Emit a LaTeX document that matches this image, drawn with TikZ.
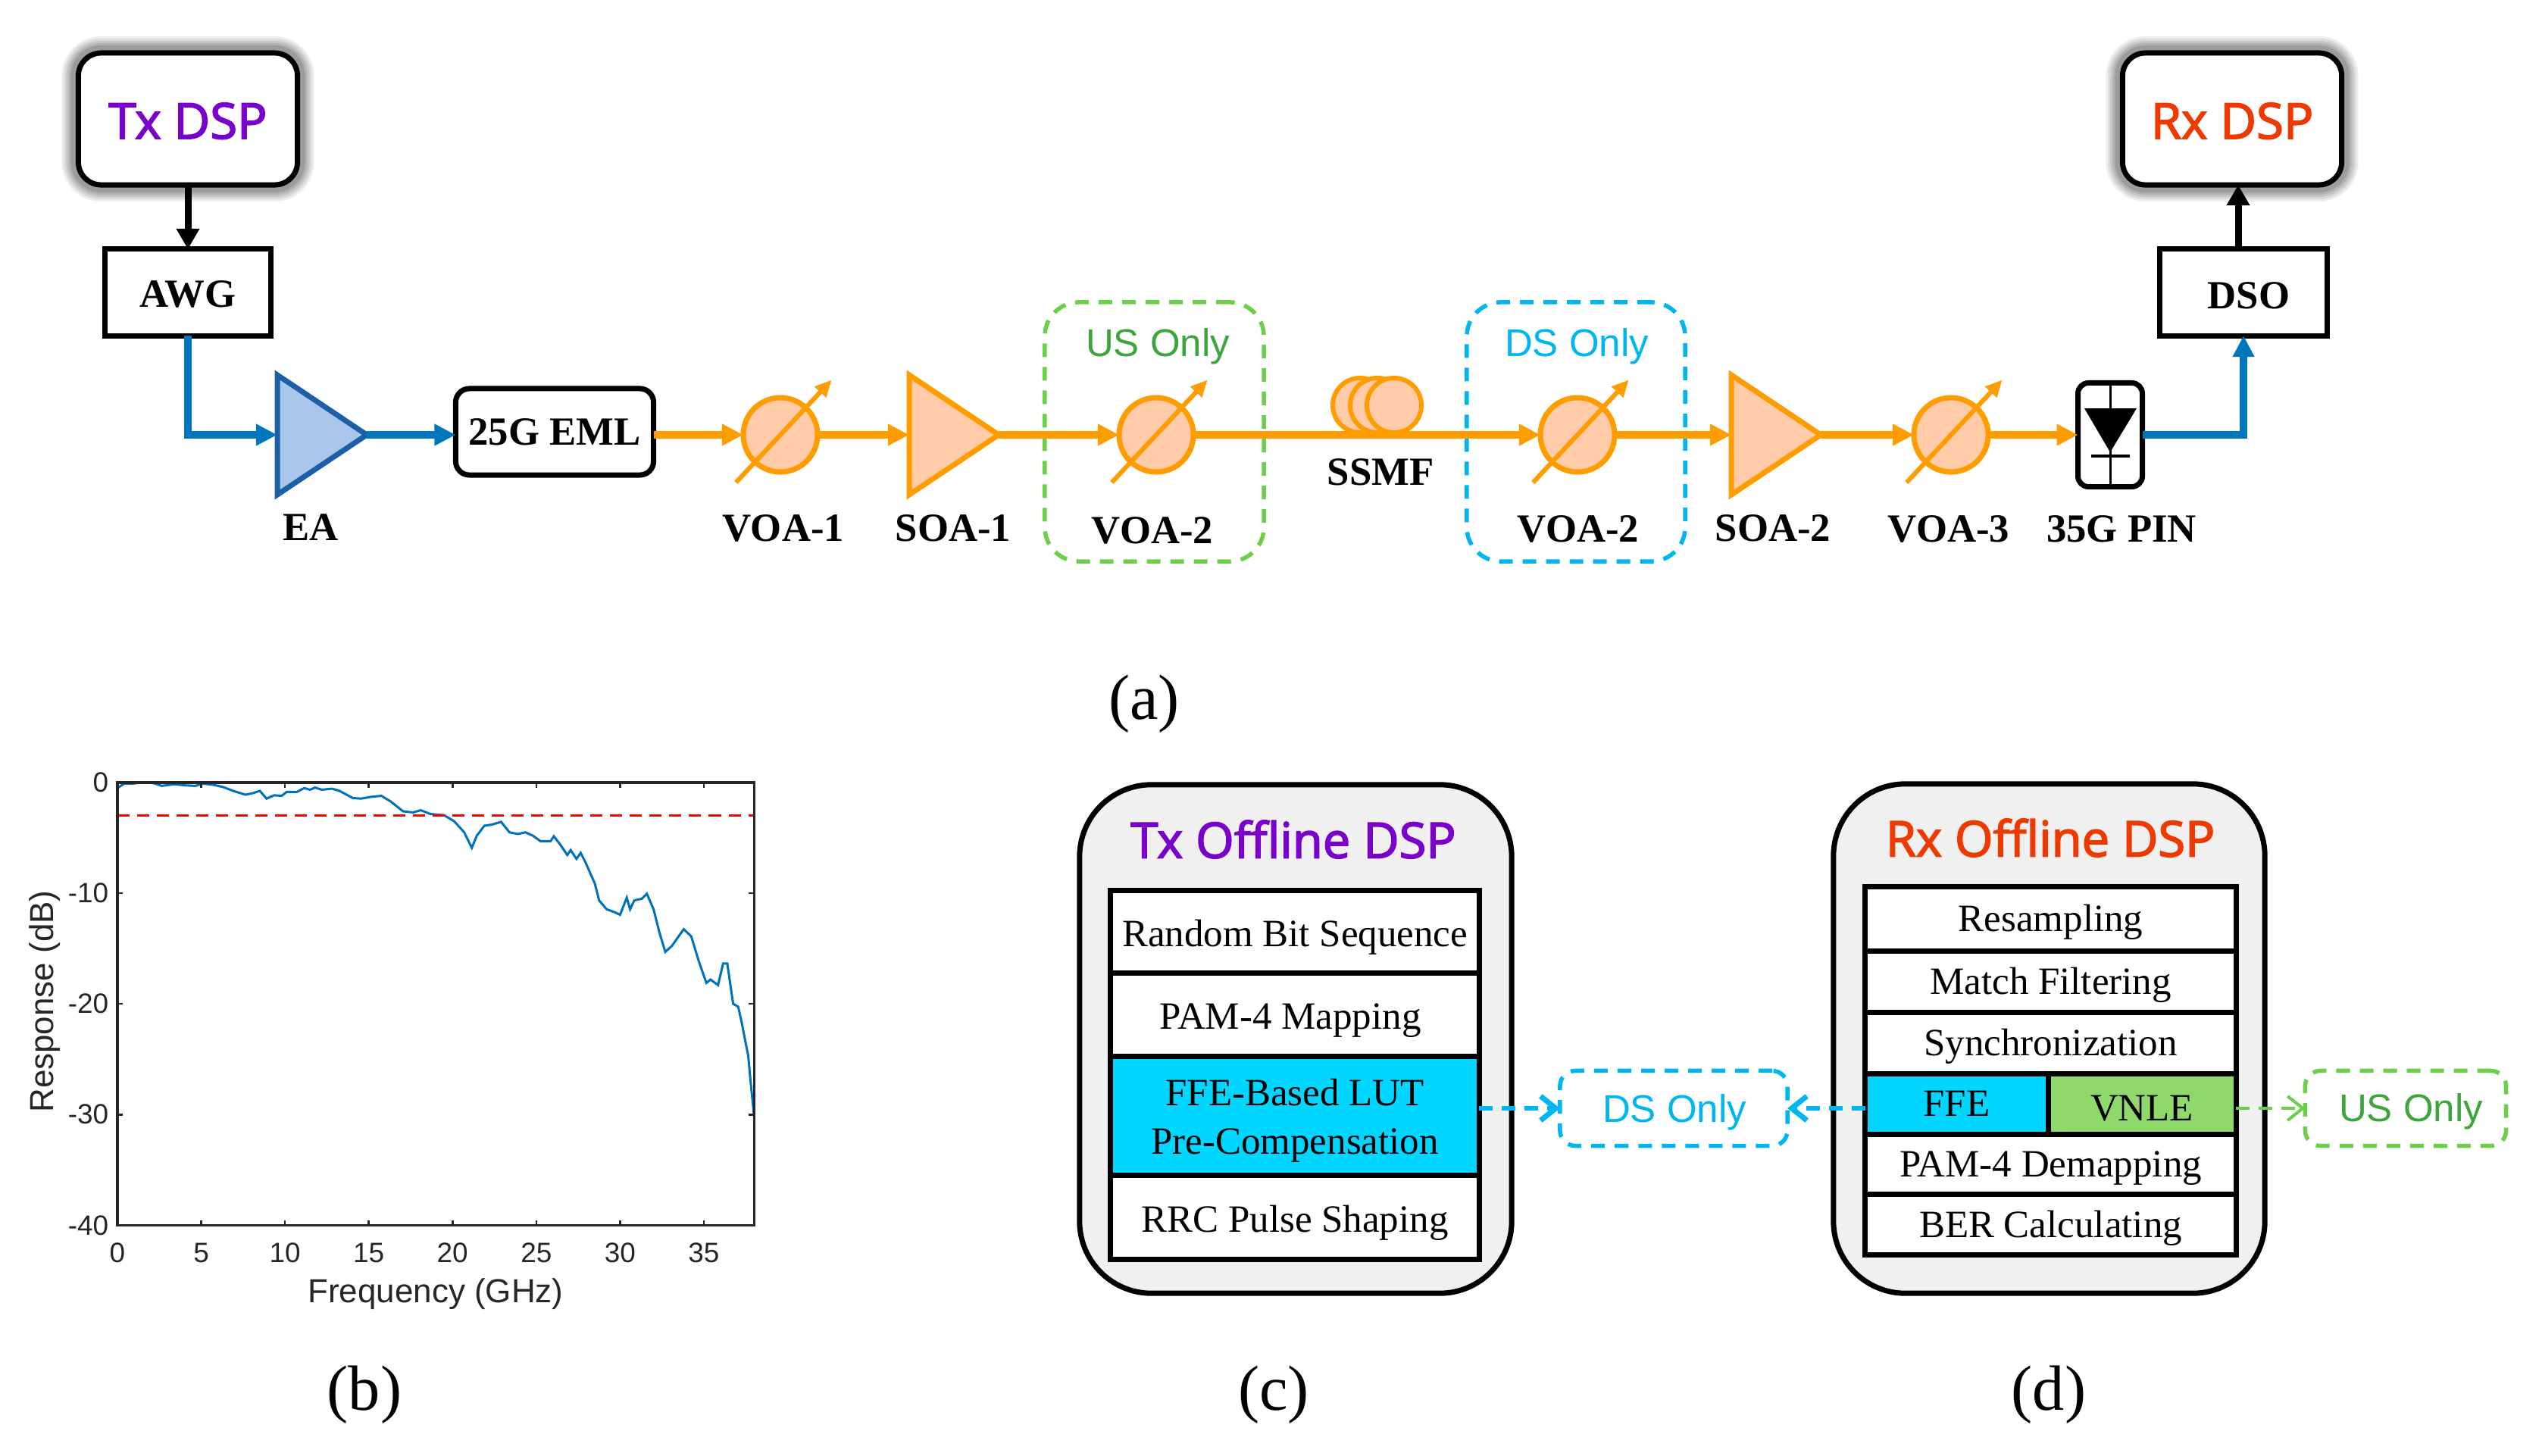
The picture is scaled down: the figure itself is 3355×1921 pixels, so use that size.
\documentclass[tikz,border=0pt]{standalone}
\usepackage{fontspec}
\setmainfont{Liberation Serif}
\setsansfont{Liberation Sans}
\newfontfamily\titlefont[FakeBold=2.5]{Open Sans}
\usepackage{xcolor}
\usetikzlibrary{positioning, arrows.meta, shapes.geometric}

\definecolor{optorange}{HTML}{FF9C00}
\definecolor{optfill}{HTML}{FFCBA8}
\definecolor{elecblue}{HTML}{0077BD}
\definecolor{eafill}{HTML}{AAC6EA}
\definecolor{eadraw}{HTML}{1B5FA6}
\definecolor{dsblue}{HTML}{00B6F0}
\definecolor{usgreen}{HTML}{6CCF4A}
\definecolor{ustext}{HTML}{3CA53C}
\definecolor{txpurple}{HTML}{7A00CC}
\definecolor{rxred}{HTML}{EE3A00}
\definecolor{ffecyan}{HTML}{00D6FF}
\definecolor{vnlegreen}{HTML}{8FD86B}
\definecolor{panelgray}{HTML}{F0F0F0}
\definecolor{curveblue}{HTML}{0072BD}

\begin{document}
\begin{tikzpicture}[x=.01cm, y=-.01cm, node distance=0cm]
        % Define styles
        \tikzstyle{dspbox} = [rectangle, draw=black, fill=white, line width=.07cm, rounded corners=.3cm, minimum width=2.89cm, minimum height=1.74cm, outer sep=0,
            preaction={draw=black, draw opacity=.07, line width=.44cm}, preaction={draw=black, draw opacity=.08, line width=.38cm}, preaction={draw=black, draw opacity=.09, line width=.32cm},
            preaction={draw=black, draw opacity=.1, line width=.26cm}, preaction={draw=black, draw opacity=.12, line width=.2cm},
            execute at begin node=\rule{0pt}{15pt}, font=\titlefont\fontsize{18.6}{22}\selectfont]
        \tikzstyle{devbox} = [rectangle, draw=black, fill=white, line width=.07cm, minimum height=1.14cm, outer sep=0, font=\bfseries\fontsize{15}{18}\selectfont]
        \tikzstyle{tag} = [inner sep=0pt, font=\bfseries\fontsize{15}{18}\selectfont]
        \tikzstyle{panel} = [inner sep=0pt, font=\fontsize{24}{28}\selectfont]
        \tikzstyle{amp} = [isosceles triangle, isosceles triangle stretches, shape border rotate=0, inner sep=0pt, outer sep=0, minimum width=1.58cm, minimum height=1.18cm, line width=.07cm, anchor=lower side]
        \tikzstyle{voa} = [circle, draw=optorange, fill=optfill, line width=.07cm, minimum size=.98cm, inner sep=0pt, outer sep=0]
        \tikzstyle{coil} = [circle, draw=optorange, fill=optfill, line width=.06cm, minimum size=.72cm, inner sep=0pt]
        \tikzstyle{tune} = [draw=optorange, line width=.06cm, -{Triangle[length=.22cm, width=.2cm]}, shorten <=-.37cm, shorten >=-.5cm]
        \tikzstyle{optarrow} = [draw=optorange, line width=.1cm, -{Triangle[length=.28cm, width=.27cm]}]
        \tikzstyle{elecarrow} = [draw=elecblue, line width=.1cm, -{Triangle[length=.28cm, width=.27cm]}]
        \tikzstyle{ctrlarrow} = [draw=black, line width=.09cm, -{Triangle[length=.27cm, width=.29cm]}]
        \tikzstyle{onlybox} = [rectangle, line width=.055cm, dash pattern=on .18cm off .13cm, rounded corners=.45cm, outer sep=0]
        \tikzstyle{onlytext} = [inner sep=0pt, font=\sffamily\fontsize{14.5}{17}\selectfont]
        \tikzstyle{offline} = [rectangle, draw=black, fill=panelgray, line width=.07cm, rounded corners=.95cm, outer sep=0]
        \tikzstyle{offtitle} = [inner sep=0pt, font=\titlefont\fontsize{18.5}{22}\selectfont]
        \tikzstyle{cell} = [rectangle, draw=black, fill=white, line width=.07cm, inner sep=0pt, outer sep=0, align=center, font=\fontsize{14.5}{18}\selectfont]
        \tikzstyle{txcell} = [cell, minimum width=4.86cm, execute at begin node=\rule{0pt}{14.1pt}]
        \tikzstyle{rxcell} = [cell, minimum width=4.89cm, execute at begin node=\rule{0pt}{12.7pt}]
        \tikzstyle{dsarrow} = [draw=dsblue, line width=.06cm, dash pattern=on .18cm off .12cm, -{Straight Barb[length=.2cm, width=.32cm, line width=.07cm]}]
        \tikzstyle{usarrow} = [draw=usgreen, line width=.04cm, dash pattern=on .18cm off .12cm, -{Straight Barb[length=.2cm, width=.32cm, line width=.04cm]}]
        \tikzstyle{ticklabel} = [inner sep=0pt, font=\sffamily\fontsize{10.5}{12}\selectfont, text=black!85]
        \tikzstyle{axistitle} = [inner sep=0pt, font=\sffamily\fontsize{12.5}{14}\selectfont, text=black!85]

        \useasboundingbox (0,0) rectangle (3355,1921);

        % Nodes
        \node (txdsp) [dspbox, text=txpurple] at (248,157) {Tx DSP};
        \node (awg) [devbox, minimum width=2.19cm] at (248,386) {\rule{0pt}{11.4pt}AWG};
        \node (ea) [amp, draw=eadraw, fill=eafill] at (366,574) {};
        \node (eml) [devbox, minimum width=2.61cm, rounded corners=.18cm] at (732,570) {25G EML};
        \node (voaone) [voa] at (1030,574) {};
        \node (soaone) [amp, draw=optorange, fill=optfill] at (1200,574) {};
        \node (usbox) [onlybox, draw=usgreen, minimum width=2.89cm, minimum height=3.42cm] at (1523.5,570) {};
        \node (ustext) [onlytext, text=ustext] at (1528,457) {US Only};
        \node (usvoa) [voa] at (1526,574) {};
        \node (coilone) [coil] at (1795,535) {};
        \node (coiltwo) [coil] at (1818,535) {};
        \node (coilthree) [coil] at (1840,535) {};
        \node (dsbox) [onlybox, draw=dsblue, minimum width=2.88cm, minimum height=3.42cm] at (2080,570) {};
        \node (dstext) [onlytext, text=dsblue] at (2081,457) {DS Only};
        \node (dsvoa) [voa] at (2082,574) {};
        \node (soatwo) [amp, draw=optorange, fill=optfill] at (2285,574) {};
        \node (voathree) [voa] at (2575,574) {};
        \node (pin) [rectangle, draw=black, fill=white, line width=.07cm, rounded corners=.14cm, minimum width=.85cm, minimum height=1.37cm, outer sep=0] at (2785,574) {};
        \node (dso) [devbox, minimum width=2.2cm] at (2961,386) {\hspace*{.14cm}\rule{0pt}{12.4pt}DSO};
        \node (rxdsp) [dspbox, text=rxred] at (2946,157) {Rx DSP};

        % Labels
        \node (ealabel) [tag] at (410,696) {EA};
        \node (voaonelabel) [tag] at (1034,697) {VOA-1};
        \node (soaonelabel) [tag] at (1258,697) {SOA-1};
        \node (usvoalabel) [tag] at (1521,700) {VOA-2};
        \node (ssmflabel) [tag] at (1822,623) {SSMF};
        \node (dsvoalabel) [tag] at (2083,698) {VOA-2};
        \node (soatwolabel) [tag] at (2340,697) {SOA-2};
        \node (voathreelabel) [tag] at (2572,698) {VOA-3};
        \node (pinlabel) [tag] at (2800,698) {35G PIN};
        \node (panela) [panel] at (1510,929) {(a)};
        \node (panelb) [panel] at (481,1841) {(b)};
        \node (panelc) [panel] at (1681,1841) {(c)};
        \node (paneld) [panel] at (2704,1841) {(d)};

        % Connections
        \draw [ctrlarrow] (txdsp.south) -- (awg.north);
        \draw [elecarrow] (awg.south) |- (ea.lower side);
        \draw [elecarrow] (ea.apex) -- (eml.west |- ea.apex);
        \draw [optarrow] (eml.east |- voaone.west) -- (voaone.west);
        \draw [optarrow] (voaone.east) -- (soaone.lower side);
        \draw [optarrow] (soaone.apex) -- (usvoa.west);
        \draw [optarrow] (usvoa.east) -- (dsvoa.west);
        \draw [optarrow] (dsvoa.east) -- (soatwo.lower side);
        \draw [optarrow] (soatwo.apex) -- (voathree.west);
        \draw [optarrow] (voathree.east) -- (pin.west);
        \draw [elecarrow] (pin.east) -| (dso.south);
        \draw [ctrlarrow] ([xshift=-.07cm]dso.north) -- ([xshift=-.07cm]dso.north |- rxdsp.south);
        \draw [tune] (voaone.227) -- (voaone.47);
        \draw [tune] (usvoa.227) -- (usvoa.47);
        \draw [tune] (dsvoa.227) -- (dsvoa.47);
        \draw [tune] (voathree.227) -- (voathree.47);

        % Photodiode
        \draw [line width=.03cm] (pin.north) -- (pin.south);
        \fill (2751,539) -- (2820,539) -- (2785,597) -- cycle;
        \draw [line width=.04cm] (2760,602) -- (2811,602);

        % Frequency response
        \begin{scope}[shift={(155,1033)}, x=.221cm, y=.146cm]
            \draw [draw=curveblue, line width=.03cm] plot coordinates {(0,-.5) (.4,-.1) (.9,-.1) (1.45,0) (2.05,0) (2.65,-.3) (3.4,-.15) (4,-.25) (4.65,-.3) (5.1,-.1) (5.7,-.2) (6.3,-.4) (6.9,-.75) (7.65,-1.1) (8.1,-.95) (8.5,-.75) (8.9,-1.45) (9.35,-1.15) (9.8,-1.2) (10.1,-.85) (10.7,-.85) (11.15,-.5) (11.5,-.65) (11.8,-.45) (12.2,-.65) (12.8,-.55) (13.25,-.75) (14.05,-1.4) (14.55,-1.45) (15.1,-1.3) (15.75,-1.2) (16.3,-1.7) (17.05,-2.6) (17.65,-2.7) (18.1,-2.5) (18.7,-2.85) (19.5,-2.95) (20.1,-3.5) (20.7,-4.5) (21.15,-5.9) (21.45,-4.8) (21.9,-3.9) (22.35,-3.8) (22.9,-3.55) (23.4,-4.5) (23.9,-4.65) (24.35,-4.5) (24.8,-4.8) (25.25,-5.3) (25.85,-5.3) (26.05,-4.85) (26.45,-5.65) (26.85,-6.55) (27.05,-6.1) (27.4,-6.9) (27.65,-6.35) (27.95,-7.25) (28.5,-9.15) (28.75,-10.65) (29.2,-11.45) (29.65,-11.7) (30,-11.95) (30.4,-10.4) (30.6,-11.45) (30.85,-10.65) (31.3,-10.5) (31.6,-10.05) (32,-11.45) (32.35,-13.55) (32.7,-15.3) (33.1,-14.75) (33.8,-13.25) (34.25,-13.9) (34.7,-16.15) (35.15,-18.1) (35.4,-17.8) (35.85,-18.3) (36.15,-16.35) (36.4,-16.35) (36.75,-20) (37.05,-20.25) (37.25,-21.6) (37.65,-24.7) (37.8,-27.15) (38,-30.15)};
            \draw [draw=red, line width=.03cm, dash pattern=on .16cm off .1cm] (0,-3) -- (38,-3);
            \draw [draw=black!85, line width=.035cm] (0,0) rectangle (38,-40);
            \foreach \f in {0,5,...,35} {
                \draw [draw=black!85, line width=.025cm] (\f,0) -- (\f,-.45);
                \draw [draw=black!85, line width=.025cm] (\f,-40) -- (\f,-39.55);
                \node (xtick\f) [ticklabel] at (\f,-42.5) {\f};
            }
            \foreach \d in {0,-10,-20,-30,-40} {
                \draw [draw=black!85, line width=.025cm] (0,\d) -- (.32,\d);
                \draw [draw=black!85, line width=.025cm] (38,\d) -- (37.68,\d);
                \node (ytick\d) [ticklabel, anchor=east] at (-.5,\d) {\d};
            }
        \end{scope}
        \node (xtitle) [axistitle] at (575,1708) {Frequency (GHz)};
        \node (ytitle) [axistitle, rotate=90] at (59,1322) {Response (dB)};

        % Tx offline DSP
        \node (txoffline) [offline, minimum width=5.7cm, minimum height=6.71cm] at (1710,1371.5) {};
        \node (txtitle) [offtitle, text=txpurple] at (1707,1108) {Tx Offline DSP};
        \node (bitseq) [txcell, minimum height=1.08cm] at (1709,1230) {Random Bit Sequence};
        \node (txmap) [txcell, minimum height=1.1cm, below=0cm of bitseq] {\hspace*{-.12cm}PAM-4 Mapping};
        \node (txlut) [txcell, fill=ffecyan, minimum height=1.57cm, below=0cm of txmap] {};
        \node (txluttext) [inner sep=0pt, align=center, font=\fontsize{14.5}{18}\selectfont] at ([yshift=-.065cm]txlut.center) {FFE-Based LUT\\Pre-Compensation};
        \node (txrrc) [txcell, minimum height=1.11cm, below=0cm of txlut] {RRC Pulse Shaping};

        % Rx offline DSP
        \node (rxoffline) [offline, minimum width=5.69cm, minimum height=6.72cm] at (2704.5,1371) {};
        \node (rxtitle) [offtitle, text=rxred] at (2706,1106) {Rx Offline DSP};
        \node (rxresamp) [rxcell, minimum height=.84cm] at (2706.5,1213) {Resampling};
        \node (rxmatch) [rxcell, minimum height=.81cm, below=0cm of rxresamp] {Match Filtering};
        \node (rxsync) [rxcell, minimum height=.81cm, below=0cm of rxmatch] {Synchronization};
        \node (rxffe) [cell, fill=ffecyan, minimum width=2.41cm, minimum height=.8cm, anchor=north west] at (rxsync.south west) {FFE};
        \node (rxvnle) [cell, fill=vnlegreen, minimum width=2.48cm, minimum height=.8cm, right=0cm of rxffe] {\rule{0pt}{12.7pt}VNLE};
        \node (rxdemap) [rxcell, minimum height=.79cm, below=0cm of rxsync, yshift=-.8cm] {PAM-4 Demapping};
        \node (rxber) [rxcell, minimum height=.8cm, below=0cm of rxdemap] {BER Calculating};

        % Only boxes
        \node (dsonly) [onlybox, draw=dsblue, rounded corners=.2cm, minimum width=3cm, minimum height=.99cm] at (2209,1463) {};
        \node (dsonlytext) [onlytext, text=dsblue] at (2210,1468) {DS Only};
        \node (usonly) [onlybox, draw=usgreen, rounded corners=.2cm, minimum width=2.65cm, minimum height=.99cm] at (3175,1463) {};
        \node (usonlytext) [onlytext, text=ustext] at (3182,1467) {US Only};

        \draw [dsarrow] (txlut.east |- dsonly.west) -- (dsonly.west);
        \draw [dsarrow] (rxffe.west |- dsonly.east) -- (dsonly.east);
        \draw [usarrow] (rxvnle.east |- usonly.west) -- (usonly.west);
\end{tikzpicture}
\end{document}
